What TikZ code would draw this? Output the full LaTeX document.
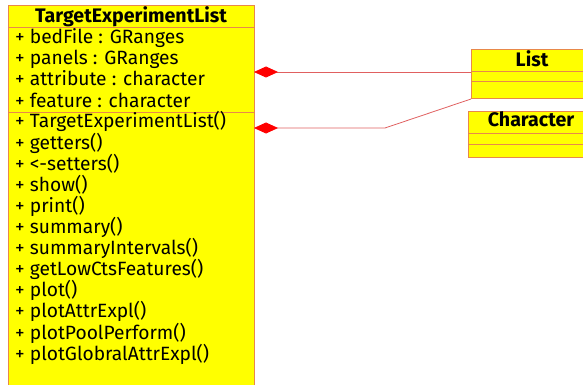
\documentclass[tikz,border=0pt]{standalone}
\usepackage{fontspec}
\setmainfont{Fira Sans}
\usetikzlibrary{arrows.meta}
\definecolor{boxfill}{HTML}{FFFF00}
\definecolor{boxline}{HTML}{E8884A}
\definecolor{linkline}{HTML}{E06060}
\definecolor{diam}{HTML}{FF0000}
\begin{document}
\begin{tikzpicture}[x=1pt,y=-1pt,
  sect/.style={draw=boxline, fill=boxfill, line width=1pt, inner sep=0pt, outer sep=0pt, anchor=north west},
  member/.style={anchor=base west, inner sep=0pt, font=\fontsize{19.2}{21}\selectfont},
  title/.style={anchor=base, inner sep=0pt, font=\fontsize{19.6}{21}\selectfont\bfseries},
  comp/.style={draw=linkline, line width=0.8pt, -{Diamond[length=24pt,width=11pt,color=diam,fill=diam]}}]
\useasboundingbox (0,0) rectangle (583,385);
\clip (0,0) rectangle (583,385);
% main class
\node[sect, minimum width=246pt, minimum height=22pt] (telhead) at (8,6) {};
\node[sect, minimum width=246pt, minimum height=85pt] (telattr) at (8,28) {};
\node[sect, minimum width=246pt, minimum height=290pt] (telmeth) at (8,113) {};
\node[title] (teltitle) at (131,23) {TargetExperimentList};
\foreach \t [count=\i] in {{+ bedFile : GRanges},{+ panels : GRanges},{+ attribute : character},{+ feature : character}}
  \node[member] (a\i) at (15,{44+21*(\i-1)}) {\t};
\foreach \t [count=\i] in {{+ TargetExperimentList()},{+ getters()},{+ <-setters()},{+ show()},{+ print()},{+ summary()},{+ summaryIntervals()},{+ getLowCtsFeatures()},{+ plot()},{+ plotAttrExpl()},{+ plotPoolPerform()},{+ plotGlobralAttrExpl()}}
  \node[member] (m\i) at (15,{128+21.1*(\i-1)}) {\t};
% List class
\node[sect, minimum width=124pt, minimum height=22pt] (listhead) at (471,50) {};
\node[sect, minimum width=124pt, minimum height=10pt] (listattr) at (471,72) {};
\node[sect, minimum width=124pt, minimum height=17pt] (listops) at (471,82) {};
\node[title] (listtitle) at (532,67) {List};
% Character class
\node[sect, minimum width=127pt, minimum height=21pt] (charhead) at (468,112) {};
\node[sect, minimum width=127pt, minimum height=11pt] (charattr) at (468,133) {};
\node[sect, minimum width=127pt, minimum height=13pt] (charops) at (468,144) {};
\node[title] (chartitle) at (531,127) {Character};
% connectors
\draw[comp] (listhead.south west) -- (listhead.south west -| telattr.east);
\coordinate (bend) at (385,128);
\draw[comp] (listops.south west) -- (bend) -- (bend -| telmeth.east);
\end{tikzpicture}
\end{document}
